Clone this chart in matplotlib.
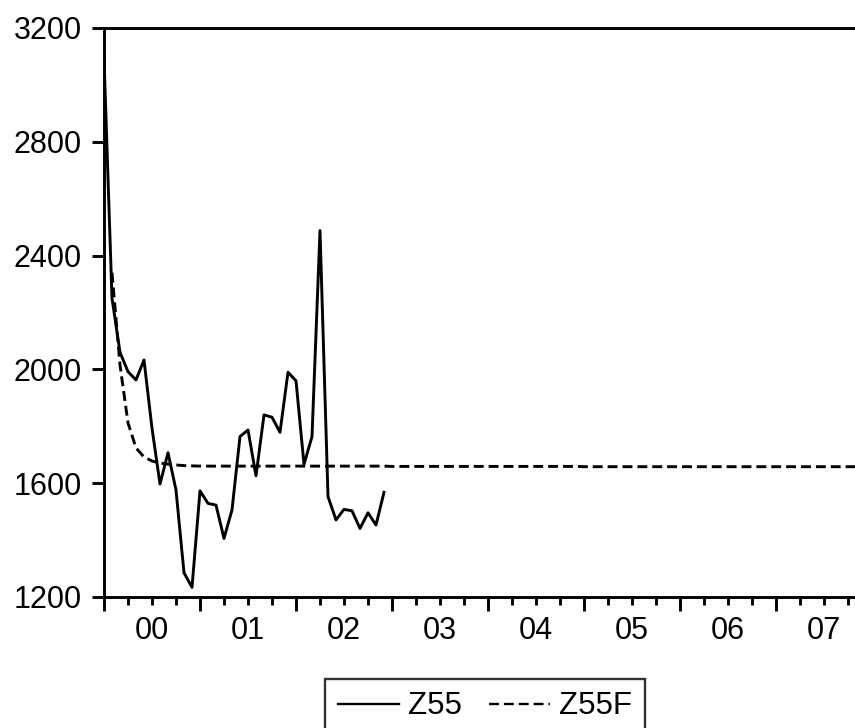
import matplotlib
matplotlib.use("Agg")
import matplotlib.pyplot as plt
from matplotlib.lines import Line2D

plt.rcParams['font.family'] = ['Liberation Sans', 'DejaVu Sans']

# Monthly index, 0 = 2000M01
z55 = [3095, 2250, 2060, 1992, 1963, 2033, 1793, 1597, 1707, 1576, 1285, 1234,
       1573, 1529, 1523, 1406, 1506, 1764, 1787, 1626, 1840, 1832, 1779, 1990,
       1960, 1666, 1764, 2488, 1553, 1471, 1508, 1503, 1441, 1496, 1453, 1568]

# Z55F starts at index 1
z55f = [2340, 2015, 1812, 1724, 1692, 1678, 1671, 1667, 1664, 1662, 1661,
        1660, 1660, 1660, 1660, 1660, 1660, 1660, 1660, 1660, 1660, 1660, 1660,
        1660, 1660, 1660, 1660, 1660, 1660, 1660, 1660, 1660, 1660, 1660, 1660,
        1659, 1659, 1659, 1659, 1659, 1659, 1659, 1659, 1659, 1659, 1659, 1659,
        1659, 1659, 1659, 1659, 1659, 1659, 1659, 1659, 1659, 1659, 1659, 1659,
        1658, 1658, 1658, 1658, 1658, 1658, 1658, 1658, 1658, 1658, 1658, 1658,
        1658, 1658, 1658, 1658, 1658, 1658, 1658, 1658, 1658, 1658, 1658, 1658,
        1658, 1658, 1658, 1658, 1658, 1658, 1658, 1658, 1658, 1658, 1658, 1658]

year_labels = ["00", "01", "02", "03", "04", "05", "06", "07"]
yticks = [1200, 1600, 2000, 2400, 2800, 3200]

x_z55 = list(range(len(z55)))
x_z55f = list(range(1, 1 + len(z55f)))

fig = plt.figure(figsize=(8.55, 7.28), dpi=100)
ax = fig.add_axes([104 / 855, 1 - 597 / 728, 768 / 855, 569 / 728])

lw = 2.1
ax.plot(x_z55, z55, color='black', lw=lw)
ax.plot(x_z55f, z55f, color='black', lw=lw, linestyle=(0, (3.4, 1.7)))

ax.set_xlim(0, 96)
ax.set_ylim(1200, 3200)

sw = 2.1
for s in ['left', 'top', 'bottom']:
    ax.spines[s].set_linewidth(sw)
ax.spines['right'].set_visible(False)

ax.set_yticks(yticks)
ax.set_yticklabels([str(v) for v in yticks])
ax.tick_params(axis='y', direction='out', length=9, width=sw, pad=7, labelsize=22)

ax.set_xticks(list(range(0, 97, 12)))
ax.set_xticks([m for m in range(0, 97, 3) if m % 12 != 0], minor=True)
ax.set_xticklabels([])
ax.tick_params(axis='x', which='major', direction='out', length=10, width=sw)
ax.tick_params(axis='x', which='minor', direction='out', length=5.5, width=sw)

for k, lab in enumerate(year_labels):
    ax.annotate(lab, xy=(6 + 12 * k, 0), xycoords=('data', 'axes fraction'),
                xytext=(0, -14), textcoords='offset points',
                ha='center', va='top', fontsize=22)

handles = [Line2D([], [], color='black', lw=1.7),
           Line2D([], [], color='black', lw=1.7, linestyle=(0, (4.2, 2.1)))]
leg = fig.legend(handles, ["Z55", "Z55F"], loc='upper center',
                 bbox_to_anchor=(485 / 855, 1 - 679 / 728), ncol=2, fontsize=22.5,
                 frameon=True, fancybox=False, handlelength=1.95,
                 handletextpad=0.3, columnspacing=0.85, borderpad=0.4,
                 borderaxespad=0)
leg.get_frame().set_edgecolor('black')
leg.get_frame().set_linewidth(1.7)

fig.savefig("out.png", dpi=100)
